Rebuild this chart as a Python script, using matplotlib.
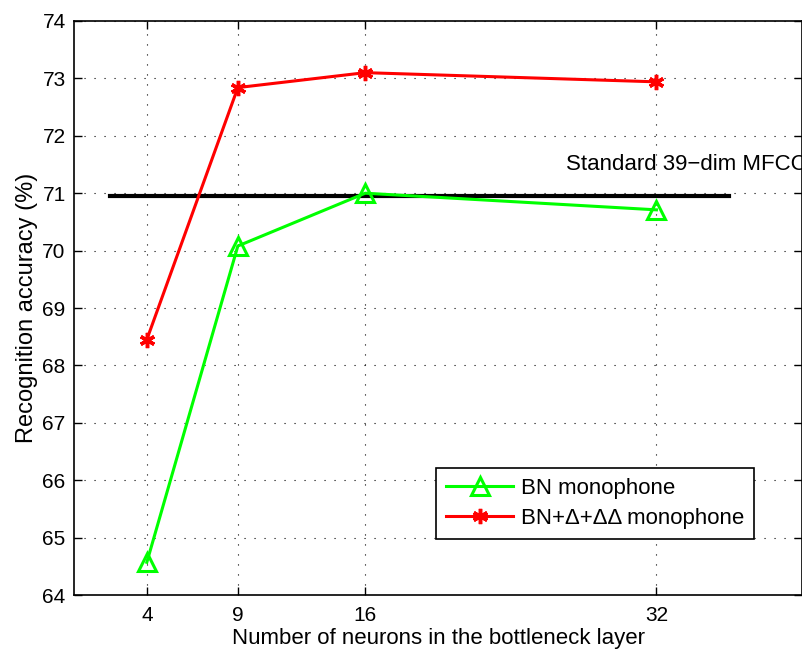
import numpy as np
import matplotlib
matplotlib.use("Agg")
import matplotlib.pyplot as plt

# donnees
neurons = [4, 9, 16, 32]
bn_mono = [64.57, 70.08, 71.0, 70.71]
bn_delta_mono = [68.45, 72.84, 73.1, 72.94]
mfcc_x = [2, 36]
mfcc_acc = 70.95

plt.rcParams['font.family'] = ['Liberation Sans', 'DejaVu Sans']
plt.rcParams['font.size'] = 16

fig = plt.figure(figsize=(8.03, 6.5), dpi=100)
ax = fig.add_axes([0.0922, 0.0846, 0.9066, 0.8831])

ax.plot(mfcc_x, [mfcc_acc, mfcc_acc], color='black', lw=3, zorder=2)
ax.plot(neurons, bn_mono, color='#00ff00', lw=2.2, marker='^', markersize=13,
        markerfacecolor='none', markeredgecolor='#00ff00', markeredgewidth=2.2,
        label='BN monophone', zorder=3)
ax.plot(neurons, bn_delta_mono, color='#ff0000', lw=2.2, marker=(6, 2, 0), markersize=11,
        markeredgecolor='#ff0000', markeredgewidth=2.5,
        label='BN+\u0394+\u0394\u0394 monophone', zorder=3)

# le texte est coupe au bord droit comme sur l'original
ax.text(27.05, 71.5, 'Standard 39\u2212dim MFCC', fontsize=16, va='center', ha='left', clip_on=False)

ax.set_xlim(0, 40)
ax.set_ylim(64, 74)
ax.set_xticks(neurons)
ax.set_yticks(np.arange(64, 75, 1))
ax.tick_params(direction='in', top=True, right=True, length=6, width=1, pad=8, labelsize=15)
ax.tick_params(axis='y', pad=6)
ax.grid(True, linestyle=(0, (1, 8)), color='black', linewidth=0.8)
for s in ax.spines.values():
    s.set_linewidth(1.2)

ax.set_xlabel('Number of neurons in the bottleneck layer', fontsize=16, labelpad=2)
ax.set_ylabel('Recognition accuracy (%)', fontsize=17, labelpad=3)

leg = ax.legend(loc='lower right', bbox_to_anchor=(0.934, 0.098), borderaxespad=0,
                fancybox=False, framealpha=1, edgecolor='black', handlelength=3.0,
                handletextpad=0.35, fontsize=16, borderpad=0.45, labelspacing=0.4)
leg.get_frame().set_linewidth(1.2)

fig.savefig('out.png', dpi=100)
